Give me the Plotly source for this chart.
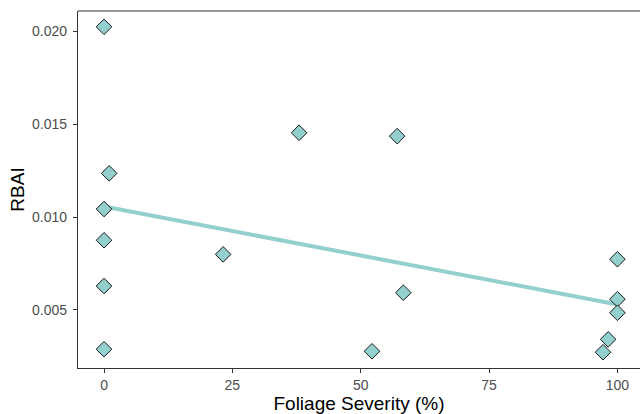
import numpy as np
import plotly.graph_objects as go

severity = [0, 1, 0, 0, 0, 0, 23.2, 38.0, 57.1, 58.3, 52.2, 100, 100, 100, 98.2, 97.2]
rbai = [0.02023, 0.01235, 0.01043, 0.00875, 0.00629, 0.00289, 0.00799, 0.01453,
        0.01435, 0.00593, 0.00278, 0.00773, 0.00558, 0.00485, 0.00342, 0.00273]
x_ticks = [0, 25, 50, 75, 100]
y_ticks = [0.005, 0.010, 0.015, 0.020]
y_tick_labels = ["0.005", "0.010", "0.015", "0.020"]

teal = "#93CFCC"

xs = np.array(severity)
ys = np.array(rbai)
slope, intercept = np.polyfit(xs, ys, 1)
fit_x = [xs.min(), xs.max()]
fit_y = [intercept + slope * v for v in fit_x]

fig = go.Figure()
fig.add_trace(go.Scatter(x=fit_x, y=fit_y, mode="lines",
                         line=dict(color=teal, width=4), hoverinfo="skip"))
fig.add_trace(go.Scatter(x=severity, y=rbai, mode="markers",
                         marker=dict(symbol="diamond", size=12, color=teal,
                                     line=dict(color="#1a1a1a", width=1))))

fig.update_layout(
    width=640, height=414,
    margin=dict(l=78, r=0, t=11, b=46),
    paper_bgcolor="white", plot_bgcolor="white",
    showlegend=False,
    font=dict(family="Liberation Sans, Arial, sans-serif"),
)
fig.update_xaxes(
    range=[-5.07, 104.4], tickvals=x_ticks,
    showgrid=False, zeroline=False,
    showline=True, linecolor="#333333", linewidth=1.2,
    ticks="outside", ticklen=4, tickcolor="#333333", tickwidth=1.1,
    tickfont=dict(size=14, color="#4D4D4D"),
    title=dict(text="Foliage Severity (%)", font=dict(size=19, color="black"), standoff=2),
)
fig.update_yaxes(
    range=[0.00188, 0.02108], tickvals=y_ticks, ticktext=y_tick_labels,
    showgrid=False, zeroline=False,
    showline=True, linecolor="#333333", linewidth=1.2,
    ticks="outside", ticklen=4, tickcolor="#333333", tickwidth=1.1,
    tickfont=dict(size=14, color="#4D4D4D"),
    ticklabelstandoff=3,
    title=dict(text="RBAI", font=dict(size=19, color="black"), standoff=2),
)
fig.add_shape(type="line", xref="paper", yref="paper", x0=0, x1=1, y0=1, y1=1,
              line=dict(color="#333333", width=1.2))

fig.write_html("out.html")
